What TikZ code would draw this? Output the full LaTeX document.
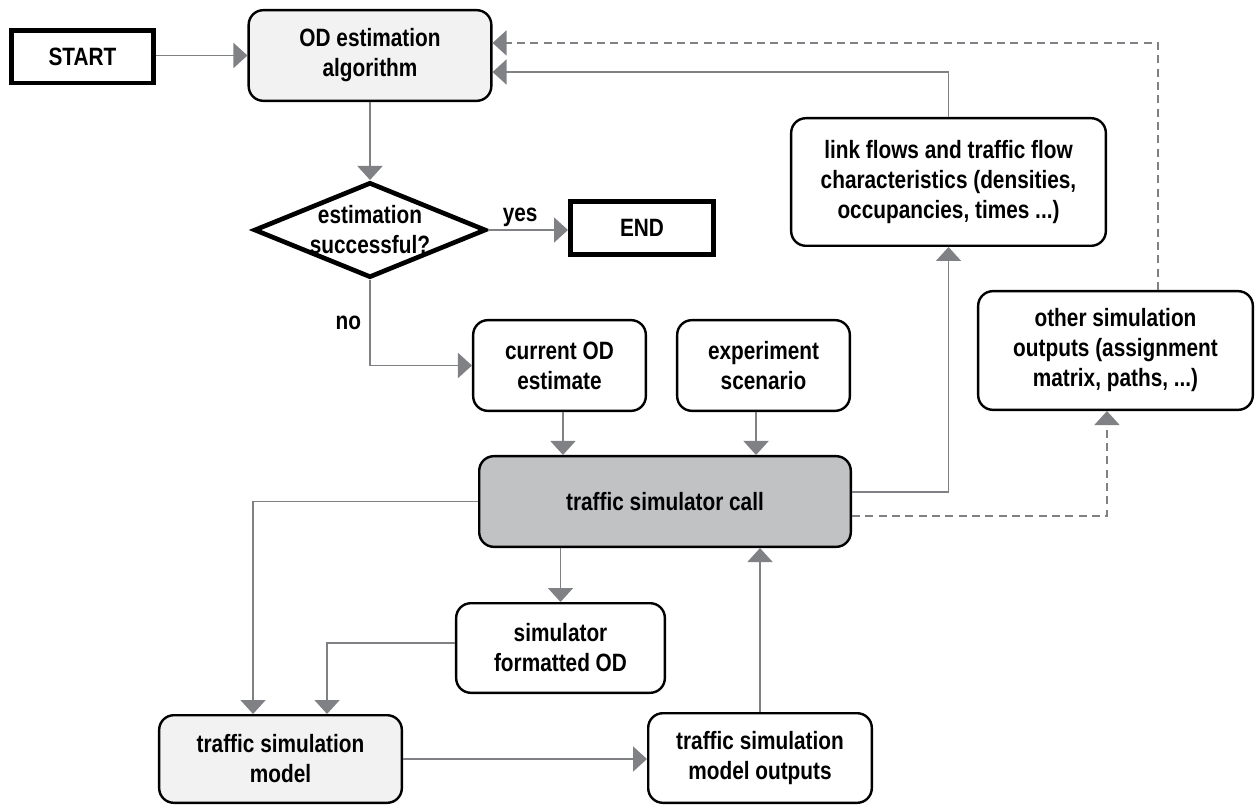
\documentclass[tikz,border=0pt]{standalone}
\usepackage{fontspec}
\setmainfont{Liberation Sans}[FakeStretch=0.83]
\usetikzlibrary{arrows.meta,shapes.geometric,calc}
\definecolor{flowgray}{RGB}{128,129,133}
\definecolor{lightfill}{RGB}{242,242,242}
\definecolor{callfill}{RGB}{193,194,196}
\tikzset{box/.style={draw, rectangle, rounded corners=11pt, line width=1.8pt, align=center, inner sep=2pt}}
\tikzset{terminal/.style={draw, rectangle, line width=3.5pt, align=center, minimum width=106.75pt, minimum height=39.25pt}}
\tikzset{decision/.style={draw, diamond, line width=3.5pt, inner sep=0pt, minimum width=174pt, minimum height=71.5pt}}
\tikzset{line/.style={draw, flowgray, line width=1.4pt, -{Triangle[length=10.5pt,width=18.75pt]}}}
\tikzset{dashline/.style={line, dash pattern=on 6pt off 4pt}}
\tikzset{answer/.style={text=black, inner sep=2pt}}

\begin{document}
\begin{tikzpicture}[x=0.75pt, y=-0.75pt, every node/.style={font=\bfseries\fontsize{18.8}{22.5}\selectfont}]
    \useasboundingbox (0,0) rectangle (1255,805);

    \node [terminal] (start) at (82.5,57) {START};
    \node [box, fill=lightfill, minimum width=182pt, minimum height=68pt] (od) at (370,55.5) {OD estimation\\algorithm};
    \node [decision, label={[align=center]center:estimation\\successful?}] (check) at (370,230) {};
    \node [terminal, minimum width=107.5pt, minimum height=40pt] (end) at (642,228) {END};

    \node [box, minimum width=129.5pt, minimum height=68pt] (current) at (559.5,365.5) {current OD\\estimate};
    \node [box, minimum width=129.5pt, minimum height=68pt] (scenario) at (763.5,365.5) {experiment\\scenario};
    \node [box, fill=callfill, minimum width=278.7pt, minimum height=68pt] (call) at (665,501.5) {traffic simulator call};

    \node [box, minimum width=236pt, minimum height=95.7pt] (linkflows) at (948.5,182) {link flows and traffic flow\\characteristics (densities,\\occupancies, times ...)};
    \node [box, minimum width=206pt, minimum height=89pt] (otherout) at (1115.5,350.5) {other simulation\\outputs (assignment\\matrix, paths, ...)};

    \node [box, minimum width=156.5pt, minimum height=67.2pt] (formatted) at (560.5,648) {simulator\\formatted OD};
    \node [box, fill=lightfill, minimum width=182pt, minimum height=65.7pt] (model) at (280.5,759) {traffic simulation\\model};
    \node [box, minimum width=167.7pt, minimum height=67.2pt] (outputs) at (760,758) {traffic simulation\\model outputs};

    \path [line] (start.east |- od) -- (od.west);
    \path [line] (od.south) -- (check.north);
    \path [line] (check.east) -- (check.east -| end.west) node [answer, above, pos=0.4] {yes};
    \path [line] (check.south) |- (current.west) node [answer, left, pos=0.25, inner sep=6pt] {no};

    \path [line] ([xshift=2.6pt]current.south) -- ([xshift=2.6pt]current.south |- call.north);
    \path [line] ([xshift=-5.6pt]scenario.south) -- ([xshift=-5.6pt]scenario.south |- call.north);

    \path [line] ([yshift=7.1pt]call.east) -| (linkflows.south);
    \path [line] (linkflows.north) |- ([yshift=-12.4pt]od.east);
    \path [dashline] ([yshift=-10.9pt]call.east) -| ([xshift=-6.4pt]otherout.south);
    \path [dashline] ([xshift=31.9pt]otherout.north) |- ([yshift=9.4pt]od.east);

    \path [line] (call.west) -| ([xshift=-20.6pt]model.north);
    \path [line] (formatted.north |- call.south) -- (formatted.north);
    \path [line] ([yshift=3.75pt]formatted.west) -| ([xshift=34.9pt]model.north);
    \path [line] (model.east) -- (model.east -| outputs.west);
    \path [line] (outputs.north) -- (outputs.north |- call.south);
\end{tikzpicture}
\end{document}
